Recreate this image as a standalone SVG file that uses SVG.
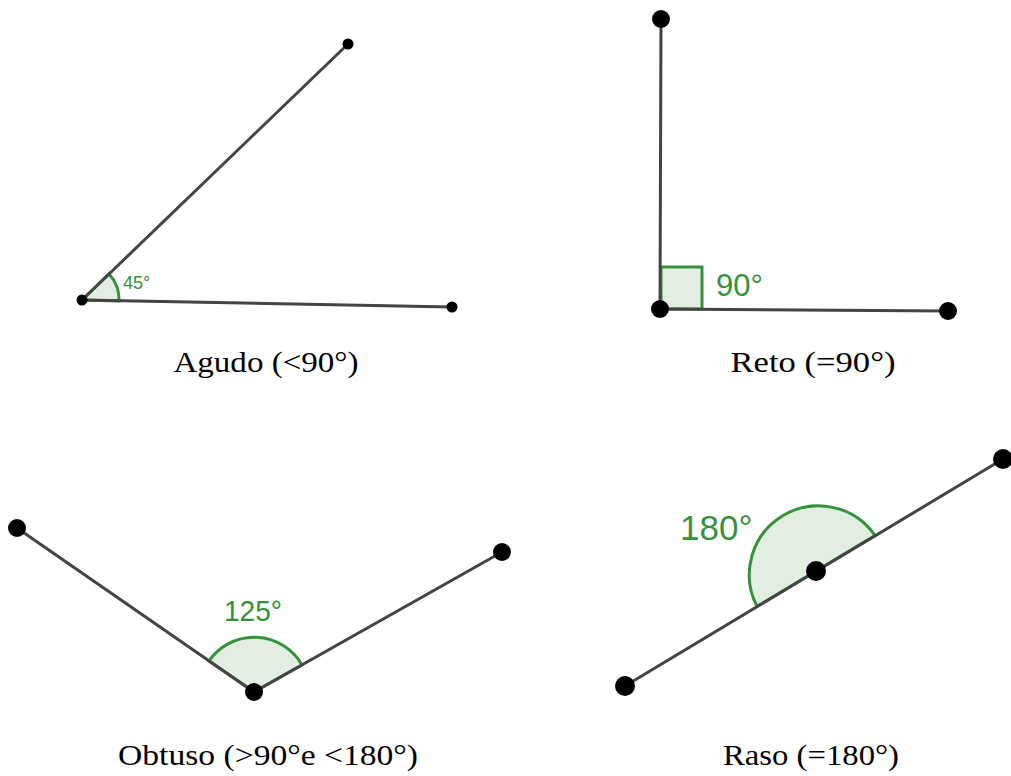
<svg xmlns="http://www.w3.org/2000/svg" width="1011" height="776" viewBox="0 0 1011 776">
<style>
.seg{stroke:#444;stroke-width:3;stroke-linecap:round;fill:none}
.ang{stroke:#35923a;stroke-width:3;fill:#e2eee2}
.pt{fill:#000}
.lbl{fill:#35923a;font-family:"Liberation Sans",Arial,sans-serif}
.cap{fill:#000;font-family:"Liberation Serif","Times New Roman",serif;font-size:30px;text-anchor:middle}
</style>
<rect width="1011" height="776" fill="#fff"/>
<g id="agudo">
<path class="ang" d="M82,300 L109,274 A37,37 0 0 1 119,301 Z"/>
<line class="seg" x1="82" y1="300" x2="348" y2="44"/>
<line class="seg" x1="82" y1="300" x2="452" y2="307"/>
<circle class="pt" cx="82" cy="300" r="5.5"/>
<circle class="pt" cx="348" cy="44" r="5.5"/>
<circle class="pt" cx="452" cy="307" r="5.5"/>
<text class="lbl" x="123" y="289" font-size="18">45°</text>
<text class="cap" x="266" y="372" textLength="185" lengthAdjust="spacingAndGlyphs">Agudo (&lt;90°)</text>
</g>
<g id="reto">
<rect class="ang" x="661" y="267" width="41" height="42"/>
<line class="seg" x1="660" y1="309" x2="661" y2="19"/>
<line class="seg" x1="660" y1="309" x2="948" y2="311"/>
<circle class="pt" cx="660" cy="309" r="9"/>
<circle class="pt" cx="661" cy="19" r="9"/>
<circle class="pt" cx="948" cy="311" r="9"/>
<text class="lbl" x="716" y="296" font-size="31">90°</text>
<text class="cap" x="813" y="372" textLength="165" lengthAdjust="spacingAndGlyphs">Reto (=90°)</text>
</g>
<g id="obtuso">
<path class="ang" d="M254,692 L209,661 A55,55 0 0 1 302,665 Z"/>
<line class="seg" x1="254" y1="692" x2="17" y2="528"/>
<line class="seg" x1="254" y1="692" x2="502" y2="552"/>
<circle class="pt" cx="254" cy="692" r="9"/>
<circle class="pt" cx="17" cy="528" r="9"/>
<circle class="pt" cx="502" cy="552" r="9"/>
<text class="lbl" x="224" y="621" font-size="30" textLength="58" lengthAdjust="spacingAndGlyphs">125°</text>
<text class="cap" x="268" y="765" textLength="300" lengthAdjust="spacingAndGlyphs">Obtuso (&gt;90°e &lt;180°)</text>
</g>
<g id="raso">
<path class="ang" d="M757,606.5 A69,69 0 0 1 875,535.5 Z"/>
<line class="seg" x1="625" y1="686" x2="1003" y2="459"/>
<circle class="pt" cx="816" cy="571" r="10"/>
<circle class="pt" cx="625" cy="686" r="10"/>
<circle class="pt" cx="1003" cy="459" r="10"/>
<text class="lbl" x="680" y="540" font-size="35">180°</text>
<text class="cap" x="811" y="765" textLength="176" lengthAdjust="spacingAndGlyphs">Raso (=180°)</text>
</g>
</svg>
